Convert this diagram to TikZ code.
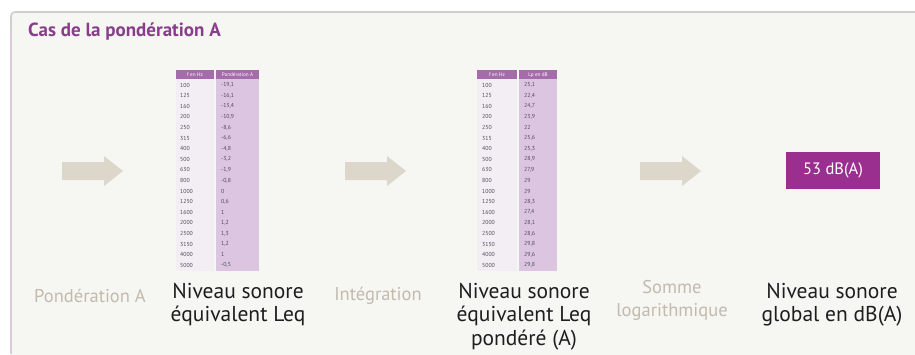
\documentclass[tikz,border=0pt]{standalone}
\usepackage{fontspec}
\setmainfont{PT Sans}
\definecolor{panelbg}{HTML}{F6F6F2}
\definecolor{topline}{HTML}{CFCFCF}
\definecolor{leftline}{HTML}{D9CCDD}
\definecolor{titlecol}{HTML}{893D8D}
\definecolor{arrowcol}{HTML}{DDD6CA}
\definecolor{greytext}{HTML}{C3BAAE}
\definecolor{darktext}{HTML}{1E1E1E}
\definecolor{boxcol}{HTML}{9A2F8F}
\definecolor{hdrcol}{HTML}{A56BAA}
\definecolor{colL}{HTML}{F3EDF4}
\definecolor{colR}{HTML}{DCC5E0}
\definecolor{celltext}{HTML}{4E4A58}
\tikzset{
  blockarrow/.style={fill=arrowcol},
  darklabel/.style={font=\fontsize{21.5}{23.5}\selectfont, text=darktext, align=center, inner sep=0pt},
  greylabel/.style={font=\fontsize{18.5}{23.5}\selectfont, text=greytext, align=center, inner sep=0pt},
  hdrtext/.style={font=\fontsize{5.2}{6}\selectfont, text=white, inner sep=0pt},
  celltextst/.style={font=\fontsize{5.8}{6}\selectfont, text=celltext, inner sep=0pt, anchor=west},
  resultbox/.style={fill=boxcol, text=white, font=\fontsize{16.5}{18}\selectfont, minimum width=94pt, minimum height=37pt, inner sep=0pt}
}
\begin{document}
\begin{tikzpicture}[x=1pt,y=-1pt]
\useasboundingbox (0,0) rectangle (915,354);
\fill[white] (0,0) rectangle (915,354);
% panel
\fill[panelbg, rounded corners=4pt] (11,12) rectangle (940,380);
\draw[leftline, line width=2.5pt] (11,16) -- (11,354);
\draw[topline, line width=1.6pt, rounded corners=4pt] (11,30) -- (11,12) -- (930,12);
% title
\node[anchor=west, text=titlecol, font=\bfseries\fontsize{19}{22}\selectfont, inner sep=0pt] (title) at (28,32) {Cas de la pondération A};

% block arrows
\foreach \x/\n in {62/arrA, 345/arrB, 640/arrC}{
  \fill[blockarrow] (\x,162) -- ({\x+42},162) -- ({\x+42},156) -- ({\x+61},171) -- ({\x+42},186) -- ({\x+42},180) -- (\x,180) -- cycle;
  \coordinate (\n) at ({\x+31},171);
}

% table 1
\begin{scope}[shift={(176,0)}]
  \fill[hdrcol] (0,70) rectangle (38,79);
  \fill[hdrcol] (40,70) rectangle (83,79);
  \fill[colL] (0,79) rectangle (38,271);
  \fill[colR] (40,79) rectangle (83,271);
  \node[hdrtext] (t1h1) at (19,74.7) {f en Hz};
  \node[hdrtext] (t1h2) at (61.5,74.7) {Pondération A};
  \foreach \f/\v [count=\i] in {100/{-19,1},125/{-16,1},160/{-13,4},200/{-10,9},250/{-8,6},315/{-6,6},400/{-4,8},500/{-3,2},630/{-1,9},800/{-0,8},1000/{0},1250/{0,6},1600/{1},2000/{1,2},2500/{1,3},3150/{1,2},4000/{1},5000/{-0,5}}{
    \node[celltextst] (t1f\i) at (4,{74.5+\i*10.6}) {\f};
    \node[celltextst] (t1v\i) at (45,{74.5+\i*10.6}) {\v};
  }
\end{scope}

% table 2
\begin{scope}[shift={(477,0)}]
  \fill[hdrcol] (0,70) rectangle (40,79);
  \fill[hdrcol] (42,70) rectangle (80,79);
  \fill[colL] (0,79) rectangle (40,271);
  \fill[colR] (42,79) rectangle (80,271);
  \node[hdrtext] (t2h1) at (20,74.7) {f en Hz};
  \node[hdrtext] (t2h2) at (61,74.7) {Lp en dB};
  \foreach \f/\v [count=\i] in {100/{25,1},125/{22,4},160/{24,7},200/{23,9},250/{22},315/{25,6},400/{25,3},500/{28,9},630/{27,9},800/{29},1000/{29},1250/{28,3},1600/{27,4},2000/{28,1},2500/{28,6},3150/{29,8},4000/{29,6},5000/{29,8}}{
    \node[celltextst] (t2f\i) at (5,{74.5+\i*10.6}) {\f};
    \node[celltextst] (t2v\i) at (47,{74.5+\i*10.6}) {\v};
  }
\end{scope}

% result box
\node[resultbox] (res) at (833,170) {53 dB(A)};

% labels
\node[greylabel] (lblA) at (90,296) {Pondération A};
\node[darklabel, anchor=north] (lblB) at (238,283) {Niveau sonore\\équivalent Leq};
\node[greylabel] (lblC) at (378,296) {Intégration};
\node[darklabel, anchor=north] (lblD) at (524,283) {Niveau sonore\\équivalent Leq\\pondéré (A)};
\node[greylabel, anchor=north] (lblE) at (672,280) {Somme\\logarithmique};
\node[darklabel, anchor=north] (lblF) at (832,283) {Niveau sonore\\global en dB(A)};
\end{tikzpicture}
\end{document}
